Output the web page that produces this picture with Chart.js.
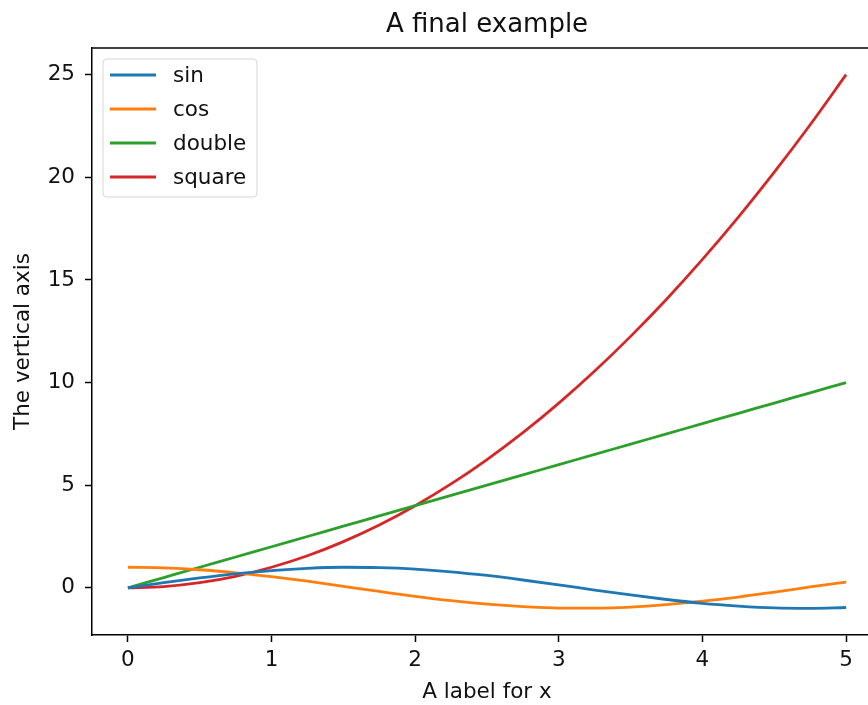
<!DOCTYPE html>
<html>
<head>
<meta charset="utf-8">
<script src="https://cdn.jsdelivr.net/npm/chart.js@4.4.1/dist/chart.umd.min.js"></script>
<style>
  html, body { margin: 0; padding: 0; background: #fff; }
  #wrap { width: 868px; height: 705px; overflow: hidden; }
  #box { width: 884px; height: 705px; }
</style>
</head>
<body>
<div id="wrap"><div id="box"><canvas id="myChart"></canvas></div></div>
<script>
// values
const xs = [0, 0.25, 0.5, 0.75, 1, 1.25, 1.5, 1.75, 2, 2.25, 2.5, 2.75, 3, 3.25, 3.5, 3.75, 4, 4.25, 4.5, 4.75, 5];
const sinVals = [0, 0.25, 0.48, 0.68, 0.84, 0.95, 1.00, 0.98, 0.91, 0.78, 0.60, 0.38, 0.14, -0.11, -0.35, -0.57, -0.76, -0.89, -0.98, -1.00, -0.96];
const cosVals = [1.00, 0.97, 0.88, 0.73, 0.54, 0.32, 0.07, -0.18, -0.42, -0.63, -0.80, -0.92, -0.99, -0.99, -0.94, -0.82, -0.65, -0.45, -0.21, 0.04, 0.28];
const doubleVals = [0, 0.5, 1, 1.5, 2, 2.5, 3, 3.5, 4, 4.5, 5, 5.5, 6, 6.5, 7, 7.5, 8, 8.5, 9, 9.5, 10];
const squareVals = [0, 0.06, 0.25, 0.56, 1, 1.56, 2.25, 3.06, 4, 5.06, 6.25, 7.56, 9, 10.56, 12.25, 14.06, 16, 18.06, 20.25, 22.56, 25];
const xTicks = [0, 1, 2, 3, 4, 5];
const yTicks = [0, 5, 10, 15, 20, 25];

const FONT = 'DejaVu Sans';
const TXT = '#111';

const pts = (vals) => xs.map((x, i) => ({x: x, y: vals[i]}));

const series = [
    {label: 'sin', data: sinVals, color: '#1f77b4'},
    {label: 'cos', data: cosVals, color: '#ff7f0e'},
    {label: 'double', data: doubleVals, color: '#2ca02c'},
    {label: 'square', data: squareVals, color: '#d62728'}
];

// top spine + legend box drawn inside the axes, like matplotlib
const framePlugin = {
    id: 'frame',
    afterDatasetsDraw(chart) {
        const ctx = chart.ctx;
        const a = chart.chartArea;
        ctx.save();
        ctx.strokeStyle = '#000';
        ctx.lineWidth = 1.5;
        ctx.beginPath();
        ctx.moveTo(a.left, a.top);
        ctx.lineTo(a.right, a.top);
        ctx.stroke();

        // legend
        const lx = a.left + 11, ly = a.top + 11, lw = 154, lh = 138;
        ctx.beginPath();
        ctx.roundRect(lx, ly, lw, lh, 4);
        ctx.fillStyle = 'rgba(255,255,255,0.8)';
        ctx.fill();
        ctx.strokeStyle = '#d6d6d6';
        ctx.lineWidth = 1;
        ctx.stroke();
        ctx.font = '21.5px "' + FONT + '"';
        ctx.textBaseline = 'middle';
        series.forEach((s, i) => {
            const y = ly + 16 + i * 34;
            ctx.strokeStyle = s.color;
            ctx.lineWidth = 2.8;
            ctx.beginPath();
            ctx.moveTo(lx + 7, y);
            ctx.lineTo(lx + 53, y);
            ctx.stroke();
            ctx.fillStyle = TXT;
            ctx.fillText(s.label, lx + 70, y + 1);
        });
        ctx.restore();
    }
};

const data = {
    datasets: series.map(s => ({
        label: s.label,
        data: pts(s.data),
        borderColor: s.color,
        backgroundColor: s.color,
        borderWidth: 2.8,
        pointRadius: 0,
        fill: false,
        cubicInterpolationMode: 'monotone'
    }))
};

const config = {
    type: 'line',
    data: data,
    options: {
        responsive: true,
        maintainAspectRatio: false,
        animation: false,
        layout: {padding: {left: 0, right: 2, top: 0, bottom: 0}},
        plugins: {
            legend: {display: false},
            tooltip: {enabled: false},
            title: {
                display: true,
                text: 'A final example',
                fullSize: false,
                color: TXT,
                font: {family: FONT, size: 26, weight: 'normal'},
                padding: {top: 9.4, bottom: 7.4}
            }
        },
        scales: {
            x: {
                type: 'linear',
                min: -0.25,
                max: 5.25,
                afterBuildTicks: (scale) => { scale.ticks = xTicks.map(v => ({value: v})); },
                afterFit: (scale) => { scale.height = 70; },
                grid: {drawOnChartArea: false, drawTicks: true, tickLength: 7, color: '#000', tickWidth: 1.5},
                border: {display: true, color: '#000', width: 1.5},
                ticks: {color: TXT, padding: 6, font: {family: FONT, size: 21.5}, maxRotation: 0},
                title: {
                    display: true,
                    text: 'A label for x',
                    color: TXT,
                    font: {family: FONT, size: 21.5},
                    padding: {top: 2, bottom: 0}
                }
            },
            y: {
                min: -2.3,
                max: 26.3,
                afterBuildTicks: (scale) => { scale.ticks = yTicks.map(v => ({value: v})); },
                afterFit: (scale) => { scale.width = 92; },
                grid: {drawOnChartArea: false, drawTicks: true, tickLength: 7, color: '#000', tickWidth: 1.5},
                border: {display: true, color: '#000', width: 1.5},
                ticks: {color: TXT, padding: 10, font: {family: FONT, size: 21.5}},
                title: {
                    display: true,
                    text: 'The vertical axis',
                    color: TXT,
                    font: {family: FONT, size: 21.5},
                    padding: {top: 11, bottom: 0}
                }
            }
        }
    },
    plugins: [framePlugin]
};

const ctx = document.getElementById('myChart').getContext('2d');
const chart = new Chart(ctx, config);
</script>
</body>
</html>
